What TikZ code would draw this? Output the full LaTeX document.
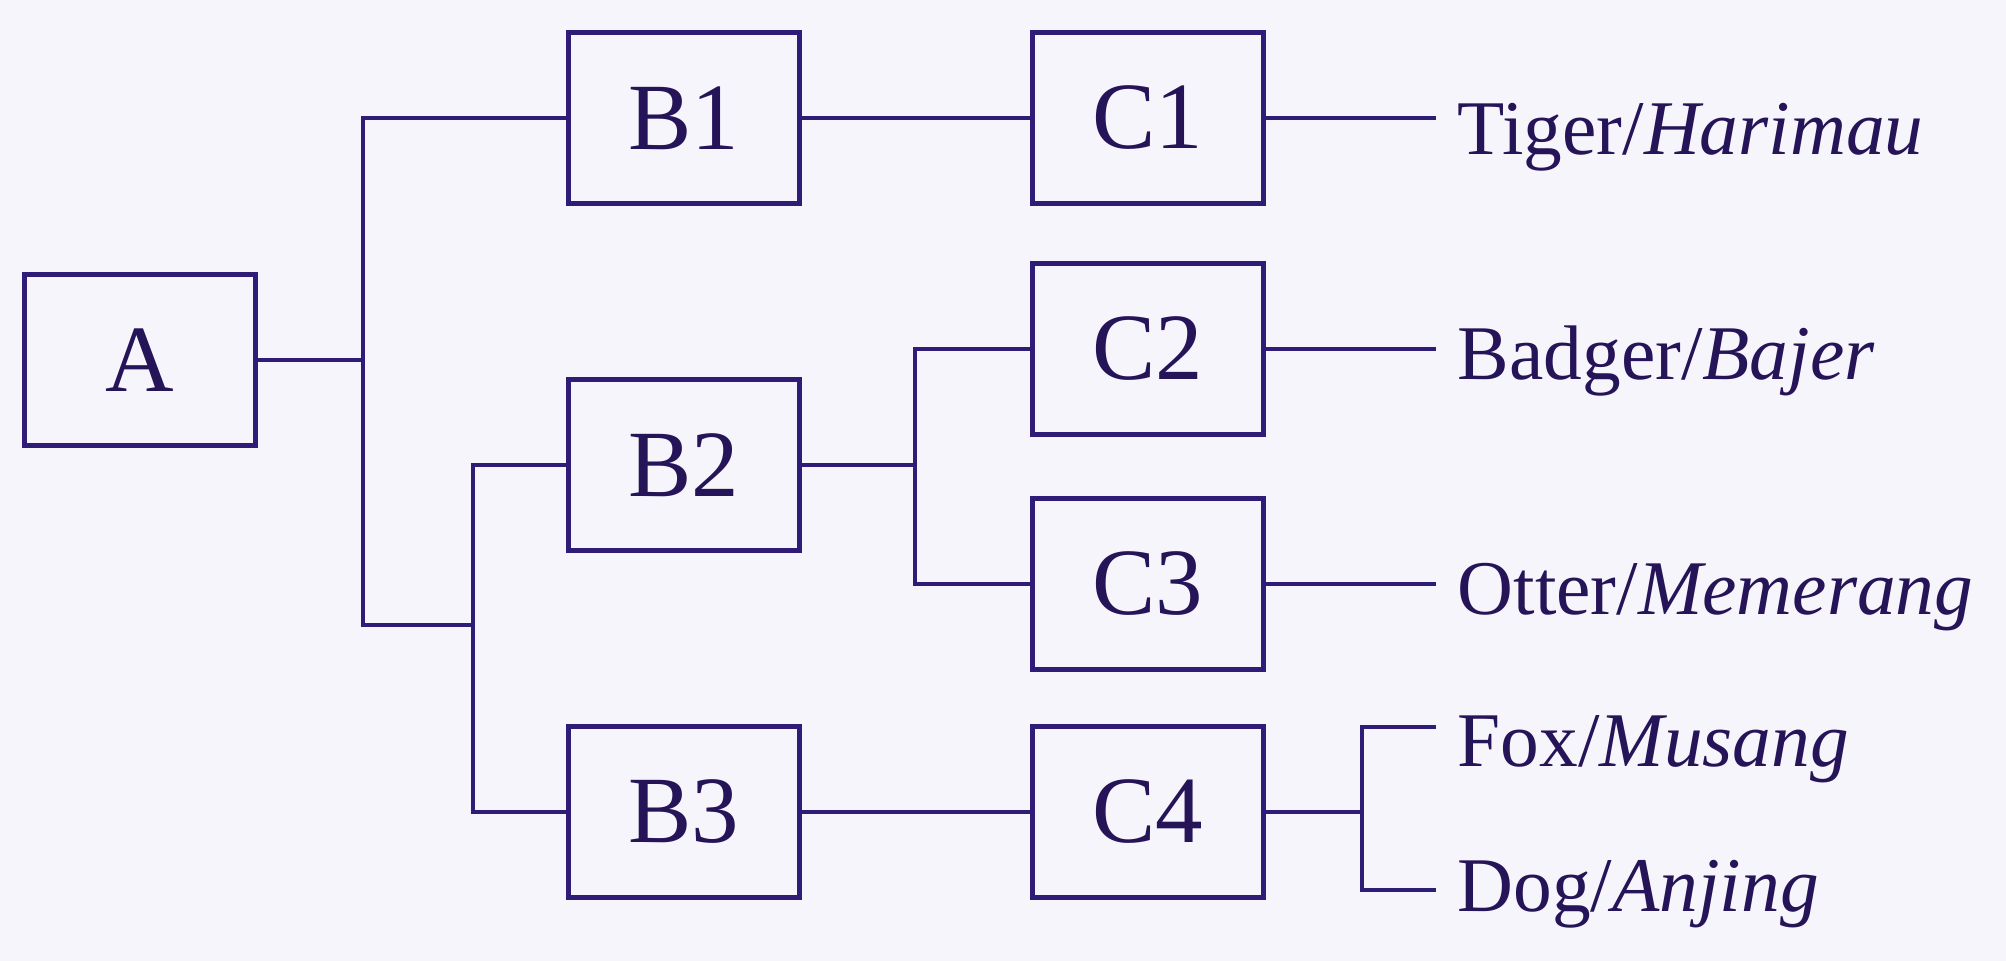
\documentclass[tikz,border=0pt]{standalone}
\usepackage{fontspec}
\setmainfont{Liberation Serif}
\definecolor{bg}{RGB}{247,245,252}
\definecolor{lc}{RGB}{46,28,118}
\definecolor{tc}{RGB}{38,20,88}
\tikzset{
  box/.style={draw=lc, line width=1.4pt, minimum width=2.30cm, minimum height=1.70cm, inner sep=0pt, text=tc, font=\fontsize{27}{30}\selectfont},
  lbl/.style={anchor=base west, inner xsep=0.21cm, inner ysep=0pt, text=tc, font=\fontsize{22}{26}\selectfont},
  ln/.style={draw=lc, line width=1.4pt}
}
\begin{document}
\begin{tikzpicture}[x=0.01cm,y=-0.01cm]
\path[fill=bg] (0,0) rectangle (2006,961);
% boxes
\node[box] (A)  at (140,360) {A};
\node[box] (B1) at (684,118) {B1};
\node[box] (B2) at (684,465) {B2};
\node[box] (B3) at (684,812) {B3};
\node[box] (C1) at (1148,118) {C1};
\node[box] (C2) at (1148,349) {C2};
\node[box] (C3) at (1148,584) {C3};
\node[box] (C4) at (1148,812) {C4};
% junctions
\coordinate (jA) at (363,625);
\coordinate (jB) at (473,625);
\coordinate (jC) at (915,465);
\coordinate (jD) at (1362,812);
\coordinate (f1) at (1436,727);
\coordinate (f2) at (1436,890);
% labels
\node[lbl] (t1) at (1436,155) {Tiger/\textit{Harimau}};
\node[lbl] (t2) at (1436,380) {Badger/\textit{Bajer}};
\node[lbl] (t3) at (1436,614) {Otter/\textit{Memerang}};
\node[lbl] (t4) at (1436,766) {Fox/\textit{Musang}};
\node[lbl] (t5) at (1436,911) {Dog/\textit{Anjing}};
% connectors
\draw[ln] (A.east) -- (A.east -| jA);
\draw[ln] (B1.west) -| (jA) -- (jB);
\draw[ln] (B2.west) -| (jB) |- (B3.west);
\draw[ln] (B1) -- (C1);
\draw[ln] (B2.east) -- (jC);
\draw[ln] (C2.west) -| (jC) |- (C3.west);
\draw[ln] (B3) -- (C4);
\draw[ln] (C1.east) -- (C1.east -| t1.west);
\draw[ln] (C2.east) -- (C2.east -| t2.west);
\draw[ln] (C3.east) -- (C3.east -| t3.west);
\draw[ln] (C4.east) -- (jD);
\draw[ln] (f1) -| (jD) |- (f2);
\end{tikzpicture}
\end{document}
